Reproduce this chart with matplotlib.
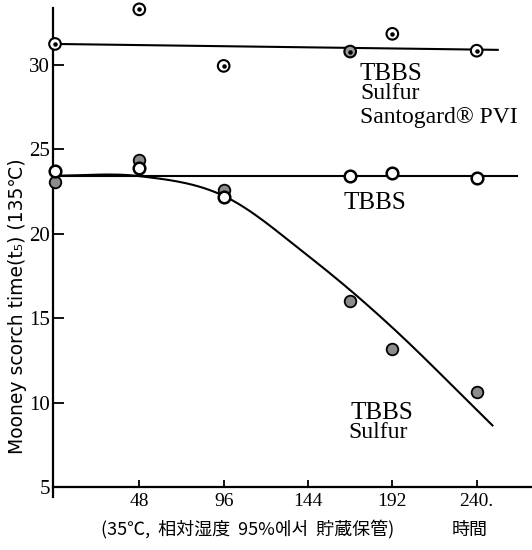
import numpy as np
import matplotlib
matplotlib.use("Agg")
from matplotlib import pyplot as plt

plt.rcParams['font.family'] = ['Noto Sans CJK JP', 'DejaVu Sans']

# storage time (hours)
hours = [0, 48, 96, 168, 192, 240]

# TBBS + Sulfur + Santogard PVI (dotted circles)
santogard = [31.25, 33.3, 29.95, 30.8, 31.85, 30.85]
# TBBS only (open circles)
tbbs = [23.75, 23.9, 22.2, 23.4, 23.6, 23.3]
# TBBS + Sulfur (gray circles)
tbbs_sulfur = [23.05, 24.4, 22.6, 16.05, 13.2, 10.65]

# hand-drawn trend lines
santogard_fit_x = [0, 252]
santogard_fit_y = [31.25, 30.9]
tbbs_fit_x = [0, 263]
tbbs_fit_y = [23.45, 23.45]
sulfur_fit_x = [0, 48, 96, 144, 192, 249]
sulfur_fit_y = [23.45, 23.42, 22.25, 18.7, 14.45, 8.65]

x_ticks = [48, 96, 144, 192, 240]
x_ticklabels = ["48", "96", "144", "192", "240."]
y_ticks = [5, 10, 15, 20, 25, 30]


def smooth(xs, ys, n=30):
    # catmull-rom through the read points
    p = np.column_stack([xs, ys]).astype(float)
    p = np.vstack([2 * p[0] - p[1], p, 2 * p[-1] - p[-2]])
    out = []
    t = np.linspace(0, 1, n)[:, None]
    for i in range(1, len(p) - 2):
        p0, p1, p2, p3 = p[i - 1], p[i], p[i + 1], p[i + 2]
        seg = 0.5 * (2 * p1 + (-p0 + p2) * t
                     + (2 * p0 - 5 * p1 + 4 * p2 - p3) * t ** 2
                     + (-p0 + 3 * p1 - 3 * p2 + p3) * t ** 3)
        out.append(seg)
    out = np.vstack(out)
    return out[:, 0], out[:, 1]


def main():
    fig = plt.figure(figsize=(5.32, 5.50), dpi=100)
    ax = fig.add_axes([53 / 532, 1 - 497 / 550, 479 / 532, 489 / 550])
    ax.set_xlim(-1.14, 271.5)
    ax.set_ylim(4.41, 33.38)

    ax.plot(santogard_fit_x, santogard_fit_y, color="black", lw=1.5, zorder=2)
    ax.plot(tbbs_fit_x, tbbs_fit_y, color="black", lw=1.5, zorder=2)
    cx, cy = smooth(sulfur_fit_x, sulfur_fit_y)
    ax.plot(cx, cy, color="black", lw=1.5, zorder=2)

    # Santogard: circle with a dot in the middle, the 168 h one is shaded
    faces = ["white"] * len(hours)
    faces[3] = "#9a9a9a"
    ax.scatter(hours, santogard, s=70, facecolors=faces, edgecolors="black",
               linewidths=1.5, zorder=3, clip_on=False)
    ax.scatter(hours, santogard, s=5, color="black", zorder=4, clip_on=False)

    ax.scatter(hours, tbbs_sulfur, s=70, facecolors="#8c8c8c", edgecolors="black",
               linewidths=1.3, zorder=3, clip_on=False)
    ax.scatter(hours, tbbs, s=70, facecolors="white", edgecolors="black",
               linewidths=1.8, zorder=4, clip_on=False)

    serif = "Liberation Serif"
    ax.text(173.5, 30.15, "TBBS", family=serif, fontsize=18, va="top", ha="left")
    ax.text(174, 28.95, "Sulfur", family=serif, fontsize=17, va="top", ha="left")
    ax.text(173.5, 27.5, "Santogard\u00ae PVI", family=serif, fontsize=17,
            va="top", ha="left")
    ax.text(164, 22.45, "TBBS", family=serif, fontsize=18, va="top", ha="left")
    ax.text(168, 10.05, "TBBS", family=serif, fontsize=18, va="top", ha="left")
    ax.text(167, 8.85, "Sulfur", family=serif, fontsize=17, va="top", ha="left")

    ax.spines["top"].set_visible(False)
    ax.spines["right"].set_visible(False)
    ax.spines["bottom"].set_position(("data", 5))
    ax.spines["left"].set_linewidth(1.6)
    ax.spines["bottom"].set_linewidth(1.6)

    ax.set_xticks(x_ticks)
    ax.set_xticklabels(x_ticklabels, family=serif, fontsize=14)
    ax.set_yticks(y_ticks)
    ax.set_yticklabels([str(v) for v in y_ticks], family=serif, fontsize=15)
    ax.tick_params(axis="x", direction="in", length=5, width=1.3, pad=4)
    ax.tick_params(axis="y", direction="in", length=8, width=1.3, pad=2)

    fig.text(18 / 532, 1 - 306 / 550, "Mooney scorch time(t\u2085) (135\u2103)",
             rotation=90, ha="center", va="center", fontsize=13.5,
             family=["DejaVu Sans", "Noto Sans CJK JP"])
    fig.text(248 / 532, 1 - 530 / 550,
             "(35\u2103,  相対湿度  95%에서  貯蔵保管)",
             ha="center", va="center", fontsize=13)
    fig.text(470 / 532, 1 - 530 / 550, "時間", ha="center", va="center",
             fontsize=13)

    fig.savefig("out.png", dpi=100)


if __name__ == "__main__":
    main()
